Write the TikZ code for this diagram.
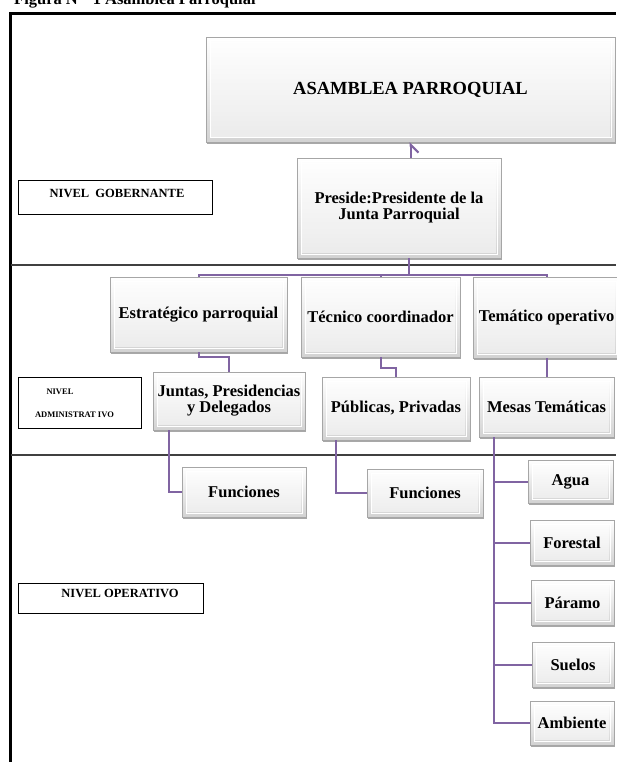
\documentclass[tikz,border=0pt]{standalone}
\usepackage{fontspec}
\setmainfont{Liberation Serif}
\usetikzlibrary{arrows.meta,shadows}
\definecolor{conpurple}{RGB}{128,100,162}
\begin{document}
\begin{tikzpicture}[x=1pt,y=-1pt,
  bbox/.style={rectangle, draw=gray!70, line width=0.5pt, top color=white, bottom color=gray!35,
    inner sep=0pt, align=center, font=\bfseries\fontsize{16.5}{16}\selectfont,
    drop shadow={shadow xshift=1pt, shadow yshift=-2pt, fill=gray!85, opacity=0.8},
    path picture={
      \fill[white, opacity=0.55]
        ([shift={(5pt,5pt)}]path picture bounding box.south west) rectangle
        ([shift={(-5pt,-5pt)}]path picture bounding box.north east);
      \draw[white, line width=1pt]
        ([shift={(4pt,4pt)}]path picture bounding box.south west) rectangle
        ([shift={(-4pt,-4pt)}]path picture bounding box.north east);}},
  lvl/.style={rectangle, draw=black, line width=1pt, inner sep=0pt},
  lvltext/.style={font=\bfseries\fontsize{12.5}{13}\selectfont, inner sep=0pt},
  con/.style={draw=conpurple, line width=2pt},
  sep/.style={draw=black!75, line width=1.3pt}]
\useasboundingbox (0,0) rectangle (616,762);
\fill[white] (0,0) rectangle (616,762);

% title (cut at top, as in the reference)
\node[anchor=base west, inner sep=0pt, font=\bfseries\fontsize{16.5}{17}\selectfont] (title) at (14,4.5) {Figura N°\ \ 1 Asamblea Parroquial};

% frame and level separators
\draw[line width=3pt] (10.5,762) -- (10.5,13.5) -- (616,13.5);
\draw[sep] (10.5,265) -- (616,265);
\draw[sep] (10.5,455) -- (616,455);

% level labels
\node[lvl, minimum width=194pt, minimum height=34pt] (nivg) at (115,197) {};
\node[lvltext] (nivgt) at (117,193) {NIVEL\ \ GOBERNANTE};
\node[lvl, minimum width=123pt, minimum height=51pt] (niva) at (79.5,402.5) {};
\node[lvltext, font=\bfseries\fontsize{8.5}{9}\selectfont] (niva1) at (60,392) {NIVEL};
\node[lvltext, font=\bfseries\fontsize{8.5}{9}\selectfont] (niva2) at (74.5,415) {ADMINISTRAT IVO};
\node[lvl, minimum width=185pt, minimum height=30pt] (nivo) at (110.5,598) {};
\node[lvltext] (nivot) at (120,593) {NIVEL OPERATIVO};

% boxes
\node[bbox, minimum width=409pt, minimum height=105pt, font=\bfseries\fontsize{18.5}{19}\selectfont] (asam) at (410.5,89.5) {ASAMBLEA PARROQUIAL};
\node[bbox, minimum width=204pt, minimum height=100pt] (pres) at (399,208) {Preside:Presidente de la\\Junta Parroquial};

\node[bbox, minimum width=177pt, minimum height=75pt] (estr) at (198.5,314.5) {Estratégico parroquial};
\node[bbox, minimum width=159pt, minimum height=80pt] (tecn) at (380.5,317) {Técnico coordinador};
\node[bbox, minimum width=147pt, minimum height=81pt] (tema) at (546.5,317.5) {Temático operativo};

\node[bbox, minimum width=152pt, minimum height=58pt] (junt) at (229,401) {Juntas, Presidencias\\y Delegados};
\node[bbox, minimum width=148pt, minimum height=63pt] (publ) at (396,408.5) {Públicas, Privadas};
\node[bbox, minimum width=135pt, minimum height=60pt] (mesa) at (546.5,407) {Mesas Temáticas};

\node[bbox, minimum width=124pt, minimum height=50pt] (fun1) at (244,492) {Funciones};
\node[bbox, minimum width=116pt, minimum height=48pt] (fun2) at (425,493) {Funciones};

\node[bbox, minimum width=85pt, minimum height=43pt] (agua) at (570.5,481.5) {Agua};
\node[bbox, minimum width=84pt, minimum height=45pt] (fore) at (572,542.5) {Forestal};
\node[bbox, minimum width=83pt, minimum height=45pt] (para) at (572.5,602.5) {Páramo};
\node[bbox, minimum width=82pt, minimum height=45pt] (suel) at (573,664.5) {Suelos};
\node[bbox, minimum width=84pt, minimum height=44pt] (ambi) at (572,723) {Ambiente};

% connectors
\draw[con, -{Straight Barb[right, length=8pt, width=16pt]}] (pres.north -| asam.south) -- (asam.south);
\coordinate (bus) at (409,275);
\draw[con] (pres.south -| bus) -- (bus);
\draw[con] (estr.north) -- (estr.north |- bus) -- (tema.north |- bus) -- (tema.north);
\draw[con] (tecn.north) -- (tecn.north |- bus);

\draw[con] (estr.south) -- ++(0,5) -| (junt.north);
\draw[con] (tecn.south) -- ++(0,11) -| (publ.north);
\draw[con] (tema.south) -- (tema.south |- mesa.north);

\draw[con] ([xshift=16pt]junt.south west) |- (fun1.west);
\draw[con] ([xshift=14pt]publ.south west) |- (fun2.west);

\coordinate (spine) at ([xshift=15pt]mesa.south west);
\draw[con] (spine) |- (ambi.west);
\draw[con] (spine |- agua.west) -- (agua.west);
\draw[con] (spine |- fore.west) -- (fore.west);
\draw[con] (spine |- para.west) -- (para.west);
\draw[con] (spine |- suel.west) -- (suel.west);
\end{tikzpicture}
\end{document}
